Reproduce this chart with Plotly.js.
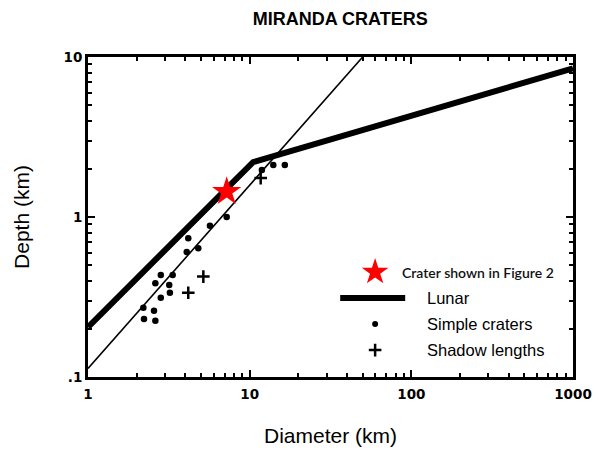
<!DOCTYPE html>
<html>
<head>
<meta charset="utf-8">
<script src="https://cdn.plot.ly/plotly-3.0.1.min.js"></script>
<style>html,body{margin:0;padding:0;background:#fff;}#chart{width:600px;height:451px;}</style>
</head>
<body>
<div id="chart"></div>
<script>
// Simple craters (diameter km, depth km)
const simpleD = [2.20, 2.22, 2.56, 2.61, 2.61, 2.82, 2.82, 3.18, 3.21, 3.34, 4.08, 4.17, 4.81, 5.68, 7.21, 11.9, 14.0, 16.5];
const simpleDepth = [0.271, 0.230, 0.259, 0.225, 0.385, 0.434, 0.313, 0.376, 0.336, 0.434, 0.605, 0.736, 0.637, 0.883, 1.00, 1.97, 2.11, 2.11];
// Shadow lengths
const shadowD = [4.17, 5.17, 11.7];
const shadowDepth = [0.336, 0.424, 1.75];
// Lunar depth-diameter relation
const lunarD = [1, 10.5, 1000];
const lunarDepth = [0.205, 2.2, 8.5];
// Miranda fit line
const fitD = [1, 50];
const fitDepth = [0.113, 10];
// Crater shown in Figure 2
const starD = [7.21];
const starDepth = [1.44];
// Ticks
const xMajor = [1, 10, 100, 1000];
const xMajorText = ['1', '10', '100', '1000'];
const yMajor = [0.1, 1, 10];
const yMajorText = ['.1', '1', '10'];
const minorVals = [];
[0.1, 1, 10, 100].forEach(function (b) { for (let k = 2; k <= 9; k++) minorVals.push(+(b * k).toPrecision(3)); });

const legendLabels = ['Crater shown in Figure 2', 'Lunar', 'Simple craters', 'Shadow lengths'];

const traces = [
  {x: fitD, y: fitDepth, mode: 'lines', line: {color: '#000', width: 1.6}, showlegend: false, hoverinfo: 'skip'},
  {x: lunarD, y: lunarDepth, mode: 'lines', line: {color: '#000', width: 6}, showlegend: false},
  {x: simpleD, y: simpleDepth, mode: 'markers', marker: {symbol: 'circle', size: 6.5, color: '#000'}, showlegend: false},
  {x: shadowD, y: shadowDepth, mode: 'markers', marker: {symbol: 'cross-thin', size: 9, line: {color: '#000', width: 2.5}}, showlegend: false},
  {x: starD, y: starDepth, mode: 'markers', marker: {symbol: 'star', size: 22, color: '#ff0000', line: {width: 0}}, showlegend: false},
  // legend samples on overlay axes
  {x: [0.592], y: [0.328], xaxis: 'x2', yaxis: 'y2', mode: 'markers', marker: {symbol: 'star', size: 20, color: '#ff0000', line: {width: 0}}, showlegend: false},
  {x: [0.520, 0.654], y: [0.247, 0.247], xaxis: 'x2', yaxis: 'y2', mode: 'lines', line: {color: '#000', width: 6}, showlegend: false},
  {x: [0.592], y: [0.166], xaxis: 'x2', yaxis: 'y2', mode: 'markers', marker: {symbol: 'circle', size: 6, color: '#000'}, showlegend: false},
  {x: [0.592], y: [0.084], xaxis: 'x2', yaxis: 'y2', mode: 'markers', marker: {symbol: 'cross-thin', size: 9, line: {color: '#000', width: 2.5}}, showlegend: false}
];

const axisFont = {family: 'DejaVu Sans, Arial, sans-serif', size: 13.5, color: '#000', weight: 'bold'};
const titleFont = {family: 'Liberation Sans, Arial, sans-serif', size: 21, color: '#000'};
const legFont = {family: 'Liberation Sans, Arial, sans-serif', size: 16.5, color: '#000'};

const layout = {
  width: 600, height: 451,
  margin: {l: 88, r: 27, t: 57, b: 74},
  paper_bgcolor: '#fff', plot_bgcolor: '#fff',
  showlegend: false,
  title: {text: 'MIRANDA CRATERS', x: 0.567, xanchor: 'center', y: 0.958, yanchor: 'middle',
          font: {family: 'Liberation Sans, Arial, sans-serif', size: 18, color: '#000', weight: 'bold'}},
  xaxis: {
    type: 'log', range: [0, 3], tickmode: 'array', tickvals: xMajor, ticktext: xMajorText,
    ticks: 'inside', ticklen: 7, tickwidth: 2, tickcolor: '#000', ticklabelstandoff: 3,
    minor: {tickmode: 'array', tickvals: minorVals, ticks: 'inside', ticklen: 4, tickwidth: 2, tickcolor: '#000', showgrid: false},
    showline: true, linewidth: 3, linecolor: '#000', mirror: 'ticks', showgrid: false, zeroline: false,
    tickfont: axisFont,
    title: {text: 'Diameter (km)', standoff: 28, font: titleFont}
  },
  yaxis: {
    type: 'log', range: [-1, 1], tickmode: 'array', tickvals: yMajor, ticktext: yMajorText,
    ticks: 'inside', ticklen: 7, tickwidth: 2, tickcolor: '#000',
    minor: {tickmode: 'array', tickvals: minorVals, ticks: 'inside', ticklen: 4, tickwidth: 2, tickcolor: '#000', showgrid: false},
    showline: true, linewidth: 3, linecolor: '#000', mirror: 'ticks', showgrid: false, zeroline: false,
    tickfont: axisFont,
    title: {text: 'Depth (km)', standoff: 29, font: titleFont}
  },
  xaxis2: {overlaying: 'x', range: [0, 1], visible: false, fixedrange: true},
  yaxis2: {overlaying: 'y', range: [0, 1], visible: false, fixedrange: true},
  annotations: [
    {xref: 'paper', yref: 'paper', x: 0.643, y: 0.328, xanchor: 'left', yanchor: 'middle', showarrow: false,
     text: legendLabels[0], font: {family: 'Lato, Noto Sans, sans-serif', size: 14, color: '#111', weight: 600}},
    {xref: 'paper', yref: 'paper', x: 0.695, y: 0.247, xanchor: 'left', yanchor: 'middle', showarrow: false,
     text: legendLabels[1], font: legFont},
    {xref: 'paper', yref: 'paper', x: 0.695, y: 0.166, xanchor: 'left', yanchor: 'middle', showarrow: false,
     text: legendLabels[2], font: legFont},
    {xref: 'paper', yref: 'paper', x: 0.695, y: 0.084, xanchor: 'left', yanchor: 'middle', showarrow: false,
     text: legendLabels[3], font: legFont}
  ]
};

Plotly.newPlot('chart', traces, layout, {displayModeBar: false, staticPlot: true});
</script>
</body>
</html>
